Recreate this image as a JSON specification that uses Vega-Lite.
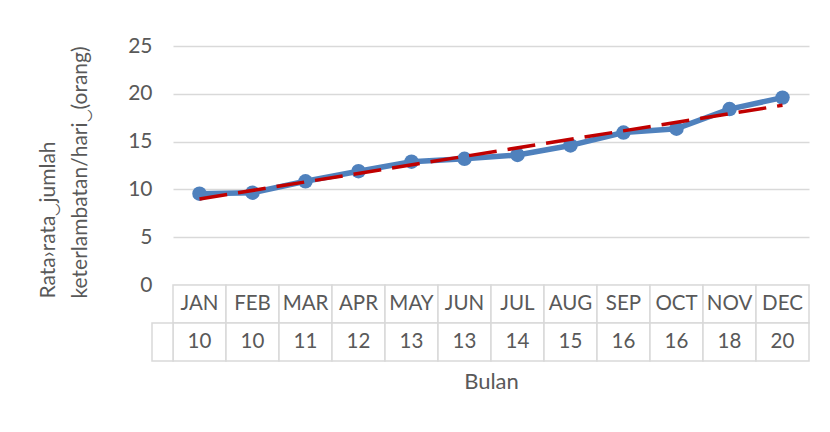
{
  "$schema": "https://vega.github.io/schema/vega-lite/v6.json",
  "background": "white",
  "padding": {"left": 37, "top": 35, "right": 15, "bottom": 5},
  "spacing": 0,
  "bounds": "flush",
  "config": {
    "view": {"stroke": null},
    "font": "Lato",
    "axis": {"labelColor": "#595959", "titleColor": "#595959", "titleFontWeight": "normal", "labelFont": "Lato", "titleFont": "Lato"}
  },
  "datasets": {
    "monthly": [
      {"month": "JAN", "value": 9.55},
      {"month": "FEB", "value": 9.65},
      {"month": "MAR", "value": 10.85},
      {"month": "APR", "value": 11.9},
      {"month": "MAY", "value": 12.9},
      {"month": "JUN", "value": 13.2},
      {"month": "JUL", "value": 13.6},
      {"month": "AUG", "value": 14.6},
      {"month": "SEP", "value": 15.95},
      {"month": "OCT", "value": 16.35},
      {"month": "NOV", "value": 18.4},
      {"month": "DEC", "value": 19.6}
    ],
    "trend": [
      {"month": "JAN", "trend": 9.0},
      {"month": "DEC", "trend": 18.8}
    ],
    "key": [{"k": "key"}]
  },
  "vconcat": [
    {
      "width": 636,
      "height": 239,
      "layer": [
        {
          "data": {"name": "monthly"},
          "mark": {"type": "line", "color": "#4f81bd", "strokeWidth": 5.5, "strokeJoin": "round"},
          "encoding": {
            "x": {"field": "month", "type": "ordinal", "sort": null,
                  "scale": {"type": "point", "padding": 0.5, "domain": ["JAN","FEB","MAR","APR","MAY","JUN","JUL","AUG","SEP","OCT","NOV","DEC"]},
                  "axis": null},
            "y": {"field": "value", "type": "quantitative",
                  "scale": {"domain": [0, 25], "nice": false},
                  "axis": {
                    "values": [0, 5, 10, 15, 20, 25],
                    "grid": true, "gridColor": "#d9d9d9", "gridWidth": 1.5,
                    "domain": false, "ticks": false,
                    "labelFontSize": 21, "labelPadding": 21,
                    "title": ["Rata›rata‿jumlah", "keterlambatan/hari‿(orang)"],
                    "titleFontSize": 21, "titleLineHeight": 32,
                    "titleX": -119, "titleY": 252, "titleAlign": "left", "titleBaseline": "alphabetic", "titleAngle": -90
                  }}
          }
        },
        {
          "data": {"name": "monthly"},
          "mark": {"type": "point", "filled": true, "color": "#4f81bd", "size": 210, "opacity": 1},
          "encoding": {
            "x": {"field": "month", "type": "ordinal", "sort": null},
            "y": {"field": "value", "type": "quantitative"}
          }
        },
        {
          "data": {"name": "trend"},
          "mark": {"type": "line", "color": "#c00000", "strokeWidth": 3.5, "strokeDash": [28, 11]},
          "encoding": {
            "x": {"field": "month", "type": "ordinal", "sort": null},
            "y": {"field": "trend", "type": "quantitative"}
          }
        }
      ]
    },
    {
      "width": 636,
      "height": 76,
      "resolve": {"scale": {"x": "independent"}, "axis": {"x": "independent"}},
      "layer": [
        {
          "data": {"name": "monthly"},
          "layer": [
            {
              "mark": {"type": "rect", "fill": "white", "stroke": "#d9d9d9", "strokeWidth": 1.5},
              "encoding": {
                "x": {"field": "month", "type": "nominal", "sort": null,
                      "scale": {"domain": ["JAN","FEB","MAR","APR","MAY","JUN","JUL","AUG","SEP","OCT","NOV","DEC"], "paddingInner": 0, "paddingOuter": 0},
                      "axis": {"title": "Bulan", "labels": false, "ticks": false, "domain": false, "grid": false,
                               "titleFontSize": 22, "titlePadding": 10}},
                "y": {"datum": "m", "type": "nominal", "scale": {"domain": ["m", "v"], "paddingInner": 0, "paddingOuter": 0}, "axis": null}
              }
            },
            {
              "mark": {"type": "rect", "fill": "white", "stroke": "#d9d9d9", "strokeWidth": 1.5},
              "encoding": {
                "x": {"field": "month", "type": "nominal", "sort": null},
                "y": {"datum": "v", "type": "nominal"}
              }
            },
            {
              "mark": {"type": "text", "fontSize": 20.5, "color": "#595959", "font": "Lato"},
              "encoding": {
                "x": {"field": "month", "type": "nominal", "sort": null},
                "y": {"datum": "m", "type": "nominal"},
                "text": {"field": "month"}
              }
            },
            {
              "mark": {"type": "text", "fontSize": 20.5, "color": "#595959", "font": "Lato"},
              "encoding": {
                "x": {"field": "month", "type": "nominal", "sort": null},
                "y": {"datum": "v", "type": "nominal"},
                "text": {"field": "value", "type": "quantitative", "format": ".0f"}
              }
            }
          ]
        },
        {
          "data": {"name": "key"},
          "mark": {"type": "rect", "fill": "white", "stroke": "#d9d9d9", "strokeWidth": 1.5},
          "encoding": {
            "x": {"field": "k", "type": "nominal",
                  "scale": {"domain": ["key"], "range": [-21, 0], "paddingInner": 0, "paddingOuter": 0},
                  "axis": null},
            "y": {"datum": "v", "type": "nominal"}
          }
        }
      ]
    }
  ]
}
